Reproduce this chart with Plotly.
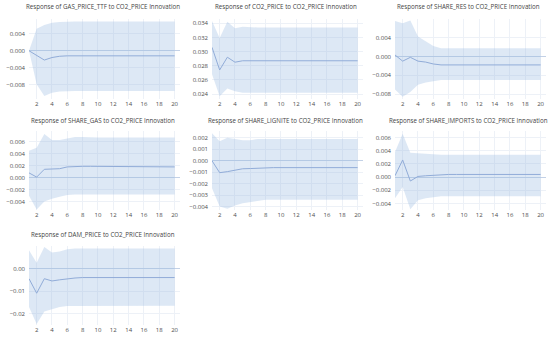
import plotly.graph_objects as go

steps = list(range(1, 21))

titles = [
    "Response of GAS_PRICE_TTF to CO2_PRICE Innovation",
    "Response of CO2_PRICE to CO2_PRICE Innovation",
    "Response of SHARE_RES to CO2_PRICE Innovation",
    "Response of SHARE_GAS to CO2_PRICE Innovation",
    "Response of SHARE_LIGNITE to CO2_PRICE Innovation",
    "Response of SHARE_IMPORTS to CO2_PRICE Innovation",
    "Response of DAM_PRICE to CO2_PRICE Innovation",
]

gas_resp = [0.0, -0.0011, -0.0022, -0.0016, -0.0013, -0.0012, -0.0012, -0.0012, -0.0012, -0.0012,
            -0.0012, -0.0012, -0.0012, -0.0012, -0.0012, -0.0012, -0.0012, -0.0012, -0.0012, -0.0012]
gas_up = [0.0, 0.0052, 0.0061, 0.0066, 0.0068, 0.0069, 0.0069, 0.0069, 0.0069, 0.0069,
          0.0069, 0.0069, 0.0069, 0.0069, 0.0069, 0.0069, 0.0069, 0.0069, 0.0069, 0.0069]
gas_lo = [0.0, -0.0079, -0.0107, -0.0099, -0.0096, -0.0095, -0.0095, -0.0095, -0.0095, -0.0095,
          -0.0095, -0.0095, -0.0095, -0.0095, -0.0095, -0.0095, -0.0095, -0.0095, -0.0095, -0.0095]

co2_resp = [0.0306, 0.0274, 0.0292, 0.0285, 0.0287, 0.0287, 0.0287, 0.0287, 0.0287, 0.0287,
            0.0287, 0.0287, 0.0287, 0.0287, 0.0287, 0.0287, 0.0287, 0.0287, 0.0287, 0.0287]
co2_up = [0.0343, 0.0319, 0.0342, 0.0333, 0.0335, 0.0334, 0.0334, 0.0334, 0.0334, 0.0334,
          0.0334, 0.0334, 0.0334, 0.0334, 0.0334, 0.0334, 0.0334, 0.0334, 0.0334, 0.0334]
co2_lo = [0.0268, 0.0237, 0.0248, 0.0244, 0.0242, 0.0242, 0.0242, 0.0242, 0.0242, 0.0242,
          0.0242, 0.0242, 0.0242, 0.0242, 0.0242, 0.0242, 0.0242, 0.0242, 0.0242, 0.0242]

res_resp = [0.0003, -0.0010, -0.0002, -0.0010, -0.0012, -0.0016, -0.0018, -0.0018, -0.0018, -0.0018,
            -0.0018, -0.0018, -0.0018, -0.0018, -0.0018, -0.0018, -0.0018, -0.0018, -0.0018, -0.0018]
res_up = [0.0075, 0.0070, 0.0076, 0.0042, 0.0032, 0.0022, 0.0017, 0.0017, 0.0017, 0.0017,
          0.0017, 0.0017, 0.0017, 0.0017, 0.0017, 0.0017, 0.0017, 0.0017, 0.0017, 0.0017]
res_lo = [-0.0070, -0.0085, -0.0075, -0.0060, -0.0055, -0.0052, -0.0050, -0.0050, -0.0050, -0.0050,
          -0.0050, -0.0050, -0.0050, -0.0050, -0.0050, -0.0050, -0.0050, -0.0050, -0.0050, -0.0050]

sgas_resp = [0.0008, 0.0001, 0.0014, 0.0014, 0.0015, 0.0018, 0.0019, 0.0019, 0.0019, 0.0019,
             0.0019, 0.0019, 0.0019, 0.0018, 0.0018, 0.0018, 0.0018, 0.0018, 0.0018, 0.0018]
sgas_up = [0.0045, 0.0050, 0.0073, 0.0063, 0.0063, 0.0066, 0.0068, 0.0068, 0.0067, 0.0067,
           0.0067, 0.0067, 0.0067, 0.0067, 0.0067, 0.0067, 0.0067, 0.0067, 0.0067, 0.0067]
sgas_lo = [-0.0030, -0.0053, -0.0040, -0.0035, -0.0032, -0.0029, -0.0028, -0.0028, -0.0028, -0.0028,
           -0.0028, -0.0028, -0.0028, -0.0028, -0.0028, -0.0028, -0.0028, -0.0028, -0.0028, -0.0028]

lig_resp = [0.0, -0.00104, -0.00095, -0.0008, -0.0007, -0.00068, -0.00064, -0.0006, -0.0006, -0.0006,
            -0.0006, -0.0006, -0.0006, -0.0006, -0.0006, -0.0006, -0.0006, -0.0006, -0.0006, -0.0006]
lig_up = [0.0024, 0.0017, 0.0020, 0.0019, 0.0018, 0.0018, 0.0019, 0.0019, 0.0019, 0.0019,
          0.0019, 0.0019, 0.0019, 0.0019, 0.0019, 0.0019, 0.0019, 0.0019, 0.0019, 0.0019]
lig_lo = [-0.0024, -0.0040, -0.0042, -0.0039, -0.0037, -0.0036, -0.0035, -0.0034, -0.0034, -0.0034,
          -0.0034, -0.0034, -0.0034, -0.0034, -0.0034, -0.0034, -0.0034, -0.0034, -0.0034, -0.0034]

imp_resp = [0.0002, 0.0026, -0.0006, 0.0001, 0.0002, 0.0003, 0.0004, 0.0004, 0.0004, 0.0004,
            0.0004, 0.0004, 0.0004, 0.0004, 0.0004, 0.0004, 0.0004, 0.0004, 0.0004, 0.0004]
imp_up = [0.0038, 0.0066, 0.0037, 0.0036, 0.0035, 0.0034, 0.0034, 0.0034, 0.0034, 0.0034,
          0.0034, 0.0034, 0.0034, 0.0034, 0.0034, 0.0034, 0.0034, 0.0034, 0.0034, 0.0034]
imp_lo = [-0.0032, -0.0015, -0.0049, -0.0035, -0.0032, -0.0030, -0.0029, -0.0029, -0.0029, -0.0029,
          -0.0029, -0.0029, -0.0029, -0.0029, -0.0029, -0.0029, -0.0029, -0.0029, -0.0029, -0.0029]

dam_resp = [-0.0045, -0.0109, -0.0045, -0.0055, -0.0050, -0.0045, -0.0042, -0.0040, -0.0040, -0.0040,
            -0.0040, -0.0040, -0.0040, -0.0040, -0.0040, -0.0040, -0.0040, -0.0040, -0.0040, -0.0040]
dam_up = [0.0080, 0.0025, 0.0095, 0.0070, 0.0075, 0.0085, 0.0088, 0.0088, 0.0088, 0.0088,
          0.0088, 0.0088, 0.0088, 0.0088, 0.0088, 0.0088, 0.0088, 0.0088, 0.0088, 0.0088]
dam_lo = [-0.0170, -0.0245, -0.0190, -0.0180, -0.0170, -0.0165, -0.0165, -0.0164, -0.0164, -0.0164,
          -0.0164, -0.0164, -0.0164, -0.0164, -0.0164, -0.0164, -0.0164, -0.0164, -0.0164, -0.0164]

responses = [gas_resp, co2_resp, res_resp, sgas_resp, lig_resp, imp_resp, dam_resp]
uppers = [gas_up, co2_up, res_up, sgas_up, lig_up, imp_up, dam_up]
lowers = [gas_lo, co2_lo, res_lo, sgas_lo, lig_lo, imp_lo, dam_lo]

# layout in pixels (550 x 338 page)
W, H = 550, 338
col_px = [(29, 180), (212, 363), (395, 546)]
row_px = [(19, 99), (131, 210), (246, 325)]
title_y = [7, 121, 234]
y_ranges = [
    [-0.0114, 0.0075], [0.0233, 0.0346], [-0.0090, 0.0079],
    [-0.0054, 0.0078], [-0.0043, 0.0026], [-0.0050, 0.0070],
    [-0.0249, 0.0099],
]
y_dticks = [0.004, 0.002, 0.004, 0.002, 0.001, 0.002, 0.01]
y_fmts = [".3f", ".3f", ".3f", ".3f", ".3f", ".3f", ".2f"]

band_fill = "rgba(150,185,225,0.32)"
line_col = "#91acd8"
grid_col = "#edf1f7"
font_fam = "Open Sans"

fig = go.Figure()
annotations = []

for i in range(7):
    r, c = divmod(i, 3)
    n = i + 1
    xa = "x" if n == 1 else f"x{n}"
    ya = "y" if n == 1 else f"y{n}"

    fig.add_trace(go.Scatter(x=steps, y=uppers[i], xaxis=xa, yaxis=ya, mode="lines",
                             line=dict(width=0), hoverinfo="skip", showlegend=False))
    fig.add_trace(go.Scatter(x=steps, y=lowers[i], xaxis=xa, yaxis=ya, mode="lines",
                             line=dict(width=0), fill="tonexty", fillcolor=band_fill,
                             hoverinfo="skip", showlegend=False))
    fig.add_trace(go.Scatter(x=steps, y=responses[i], xaxis=xa, yaxis=ya, mode="lines",
                             line=dict(width=1, color=line_col), showlegend=False))

    x0, x1 = col_px[c]
    y0, y1 = row_px[r]
    xkey = "xaxis" if n == 1 else f"xaxis{n}"
    ykey = "yaxis" if n == 1 else f"yaxis{n}"
    fig.update_layout({
        xkey: dict(domain=[x0 / W, x1 / W], anchor=ya, range=[1, 20.7], dtick=2, tick0=0,
                   showgrid=True, gridcolor=grid_col, zeroline=False, showline=False,
                   tickfont=dict(size=6, color="#4d4d4d", family=font_fam), ticklen=0),
        ykey: dict(domain=[1 - y1 / H, 1 - y0 / H], anchor=xa, range=y_ranges[i],
                   dtick=y_dticks[i], tick0=0, tickformat=y_fmts[i],
                   showgrid=True, gridcolor=grid_col, zeroline=True,
                   zerolinecolor="#c3d1e6", zerolinewidth=1, showline=False,
                   ticklabelstandoff=3,
                   tickfont=dict(size=6, color="#4d4d4d", family=font_fam), ticklen=0),
    })
    annotations.append(dict(text=titles[i], x=(x0 + x1) / 2 / W - 2 / W, y=1 - title_y[r] / H,
                            xref="paper", yref="paper", showarrow=False,
                            xanchor="center", yanchor="middle",
                            font=dict(size=6.2, color="#444444", family=font_fam)))

fig.update_layout(
    width=W, height=H,
    margin=dict(l=0, r=0, t=0, b=0),
    paper_bgcolor="white",
    plot_bgcolor="white",
    annotations=annotations,
)

fig.write_html("out.html", config={"displayModeBar": False},
               post_script="document.body.style.margin='0';")
